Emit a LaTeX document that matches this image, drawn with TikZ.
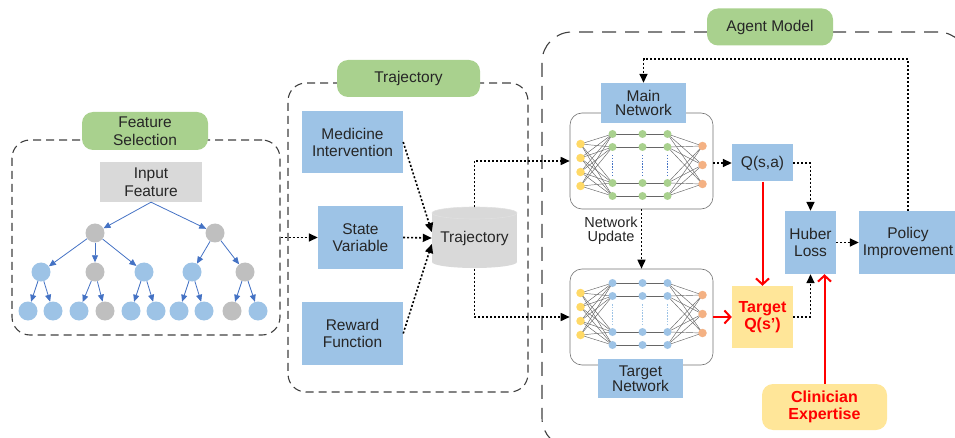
\documentclass[tikz,border=0pt]{standalone}
\usepackage{fontspec}
\setmainfont{Liberation Sans}
\usetikzlibrary{arrows.meta,calc}

\definecolor{lgreen}{HTML}{A9D18E}
\definecolor{lblue}{HTML}{9DC3E6}
\definecolor{lgray}{HTML}{D9D9D9}
\definecolor{cgray}{HTML}{BFBFBF}
\definecolor{lyellow}{HTML}{FFE699}
\definecolor{tblue}{HTML}{4472C4}
\definecolor{cyel}{HTML}{FFD966}
\definecolor{corange}{HTML}{F4B183}
\definecolor{txt}{HTML}{262626}

\newcommand\drawnet[5]{%
  \foreach \j/\dy in {1/-21,2/-7,3/7,4/21} {\coordinate (#1i\j) at (#2-61,#3+\dy);}
  \foreach \k/\dx in {1/-29,2/1,3/26} {\foreach \j/\dy in {1/-31,2/-18,3/18,4/31} {\coordinate (#1h\k\j) at (#2+\dx,#3+\dy);}}
  \foreach \j/\dy in {1/-19,2/0,3/19} {\coordinate (#1o\j) at (#2+61,#3+\dy);}
  \foreach \a in {1,...,4} {\foreach \b in {1,...,4} {\draw[nnline] (#1i\a) -- (#1h1\b);}}
  \foreach \a in {1,...,4} {\foreach \b in {1,2,3} {\draw[nnline] (#1h3\a) -- (#1o\b);}}
  \foreach \b in {1,...,4} {\draw[nnline] (#1h1\b) -- (#1h3\b);}
  \foreach \k in {1,2,3} {\draw[#5, line width=1.5pt, dash pattern=on 1.5pt off 1.3pt] ($(#1h\k2)+(0,8)$) -- ($(#1h\k3)+(0,-8)$);}
  \foreach \j in {1,...,4} {\node[nn, minimum size=8.5pt, fill=cyel] (#1I\j) at (#1i\j) {};}
  \foreach \k in {1,2,3} {\foreach \j in {1,...,4} {\node[nn, fill=#4] (#1H\k\j) at (#1h\k\j) {};}}
  \foreach \j in {1,2,3} {\node[nn, minimum size=8.5pt, fill=corange] (#1O\j) at (#1o\j) {};}
}

\begin{document}
\begin{tikzpicture}[x=1pt,y=-1pt, font=\fontsize{15.5}{17}\selectfont, text=txt,
  grp/.style={draw=black!75, line width=1.1pt, dash pattern=on 8pt off 5pt, rounded corners=18pt},
  lbl/.style={fill=lgreen, rounded corners=11pt, minimum height=38pt, align=center, inner sep=0},
  bbox/.style={fill=lblue, align=center, inner sep=0},
  dotarr/.style={line width=1.6pt, dash pattern=on 2pt off 2pt, -{Triangle[length=9pt,width=8pt]}},
  redarr/.style={red, line width=2pt, -{Straight Barb[length=6pt,width=13pt,line width=2pt]}},
  treearr/.style={tblue, line width=0.8pt, -{Triangle[length=7pt,width=6pt]}},
  tc/.style={circle, minimum size=19pt, inner sep=0},
  tb/.style={tc, fill=lblue},
  tg/.style={tc, fill=cgray},
  nn/.style={circle, minimum size=8pt, inner sep=0},
  nnline/.style={black!60, line width=0.45pt},
  panel/.style={draw=black!55, line width=0.6pt, fill=white, rounded corners=12pt, minimum width=143pt, minimum height=96pt, inner sep=0},
  redtxt/.style={text=red, font=\fontsize{16}{17}\selectfont\bfseries}
]
\useasboundingbox (0,0) rectangle (955,438);

% ---------------- Feature selection ----------------
\node[grp, minimum width=268pt, minimum height=195pt, inner sep=0] (fsbox) at (146,237.5) {};
\node[lbl, minimum width=126pt, font=\fontsize{15.5}{18}\selectfont] (fslbl) at (145,131) {Feature\\Selection};
\node[fill=lgray, minimum width=102pt, minimum height=40pt, align=center, inner sep=0, font=\fontsize{15.5}{18}\selectfont] (inp) at (151,182) {Input\\Feature};

\node[tg] (g1) at (95,233) {};
\node[tg] (g2) at (215,233) {};
\node[tb] (a1) at (41,272) {};
\node[tg] (a2) at (95,272) {};
\node[tb] (a3) at (144,272) {};
\node[tb] (a4) at (192,272) {};
\node[tg] (a5) at (245,272) {};
\node[tb] (b1) at (28,311) {};
\node[tb] (b2) at (53,311) {};
\node[tb] (b3) at (79,311) {};
\node[tg] (b4) at (105,311) {};
\node[tb] (b5) at (131,311) {};
\node[tb] (b6) at (156,311) {};
\node[tb] (b7) at (179,311) {};
\node[tb] (b8) at (204,311) {};
\node[tg] (b9) at (232,311) {};
\node[tb] (b10) at (258,311) {};

\draw[treearr] (inp.south) -- (g1);
\draw[treearr] (inp.south) -- (g2);
\draw[treearr] (g1) -- (a1);
\draw[treearr] (g1) -- (a2);
\draw[treearr] (g1) -- (a3);
\draw[treearr] (g2) -- (a4);
\draw[treearr] (g2) -- (a5);
\draw[treearr] (a1) -- (b1);
\draw[treearr] (a1) -- (b2);
\draw[treearr] (a2) -- (b3);
\draw[treearr] (a2) -- (b4);
\draw[treearr] (a3) -- (b5);
\draw[treearr] (a3) -- (b6);
\draw[treearr] (a4) -- (b7);
\draw[treearr] (a4) -- (b8);
\draw[treearr] (a5) -- (b9);
\draw[treearr] (a5) -- (b10);

% ---------------- Trajectory ----------------
\node[grp, minimum width=240pt, minimum height=309pt, inner sep=0] (trbox) at (408,237.5) {};
\node[lbl, minimum width=143pt, minimum height=37pt] (trlbl) at (408.5,78.5) {Trajectory};
\node[bbox, minimum width=101pt, minimum height=62pt] (med) at (352.5,142) {Medicine\\Intervention};
\node[bbox, minimum width=85pt, minimum height=63pt] (state) at (360.5,237.5) {State\\Variable};
\node[bbox, minimum width=101pt, minimum height=63pt] (rew) at (352.5,333.5) {Reward\\Function};

\fill[lgray] (432,213) rectangle (517,262);
\fill[lgray] (474.5,262) ellipse [x radius=42.5pt, y radius=6pt];
\fill[lgray] (474.5,213) ellipse [x radius=42.5pt, y radius=6pt];
\draw[white!88!black, line width=0.6pt] (474.5,213) ellipse [x radius=42.5pt, y radius=6pt];
\node[minimum width=85pt, minimum height=61pt, inner sep=0] (traj) at (474.5,238) {Trajectory};

\draw[dotarr] (fsbox.east) -- (state.west);
\draw[dotarr] (med.east) -- ($(traj.west)+(0,-6)$);
\draw[dotarr] (state.east) -- (traj.west);
\draw[dotarr] (rew.east) -- ($(traj.west)+(0,6)$);

% ---------------- Agent model ----------------
\node[draw=black!75, line width=1.1pt, dash pattern=on 14pt off 9pt, rounded corners=30pt, minimum width=426pt, minimum height=416pt, inner sep=0] (agbox) at (755,240) {};
\node[lbl, minimum width=126pt, minimum height=37pt] (aglbl) at (770,27) {Agent Model};

\node[panel] (mpanel) at (641.5,161) {};
\node[panel] (tpanel) at (641.5,317) {};
\drawnet{m}{641.5}{165}{lgreen}{tblue}
\drawnet{t}{641.5}{314}{lblue}{lblue}

\node[bbox, minimum width=85pt, minimum height=40pt, font=\fontsize{15.5}{14}\selectfont] (mainlbl) at (643.5,103) {Main\\Network};
\node[bbox, minimum width=85pt, minimum height=39pt, font=\fontsize{15.5}{14}\selectfont] (tgtlbl) at (640.5,378.5) {Target\\Network};

\node[bbox, minimum width=61pt, minimum height=37pt] (qsa) at (762.5,163) {Q(s,a)};
\node[fill=lyellow, minimum width=61pt, minimum height=62pt, align=center, inner sep=0, redtxt] (tq) at (762.5,317) {Target\\Q(s')};
\node[bbox, minimum width=51pt, minimum height=63pt] (huber) at (810.5,242.5) {Huber\\Loss};
\node[bbox, minimum width=98pt, minimum height=63pt] (policy) at (908,242.5) {Policy\\Improvement};
\node[fill=lyellow, rounded corners=11pt, minimum width=125pt, minimum height=46pt, align=center, inner sep=0, redtxt] (clin) at (824.5,407) {Clinician\\Expertise};
\node[align=center, inner sep=0, font=\fontsize{14.5}{14}\selectfont] (nupd) at (611,231) {Network\\Update};

\coordinate (topline) at (700,59);

\draw[dotarr] (traj.north) |- (mpanel.west);
\draw[dotarr] (traj.south) |- (tpanel.west);
\draw[dotarr] (policy.north) -- (policy.north |- topline) -| (mainlbl.north);
\draw[dotarr] (mpanel.east |- qsa.west) -- (qsa.west);
\draw[dotarr] (qsa.east) -| (huber.north);
\draw[dotarr] (tq.east) -| (huber.south);
\draw[dotarr] (huber.east) -- (policy.west);
\draw[dotarr] (mpanel.south) -- (tpanel.north);
\draw[redarr] (qsa.south) -- (tq.north);
\draw[redarr] (tpanel.east) -- (tq.west);
\draw[redarr] (clin.north) -- (clin.north |- huber.south);
\end{tikzpicture}
\end{document}
